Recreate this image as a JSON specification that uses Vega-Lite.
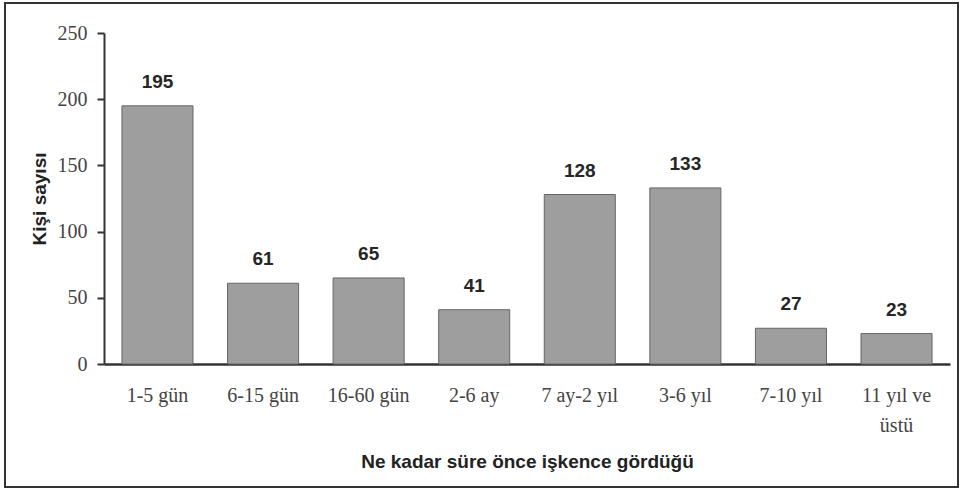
{
  "$schema": "https://vega.github.io/schema/vega-lite/v6.json",
  "autosize": {"type": "none"},
  "width": 846,
  "height": 331,
  "padding": {"left": 104, "top": 33, "right": 17, "bottom": 126},
  "background": "white",
  "config": {"view": {"stroke": null}},
  "data": {"values": [
    {"sure": "1-5 gün", "n": 195},
    {"sure": "6-15 gün", "n": 61},
    {"sure": "16-60 gün", "n": 65},
    {"sure": "2-6 ay", "n": 41},
    {"sure": "7 ay-2 yıl", "n": 128},
    {"sure": "3-6 yıl", "n": 133},
    {"sure": "7-10 yıl", "n": 27},
    {"sure": "11 yıl ve üstü", "n": 23}
  ]},
  "layer": [
    {
      "data": {"values": [{}]},
      "mark": {"type": "rect", "fill": null, "stroke": "#333", "strokeWidth": 2},
      "encoding": {
        "x": {"value": -99},
        "x2": {"value": 854},
        "y": {"value": -30},
        "y2": {"value": 454}
      }
    },
    {
      "mark": {"type": "bar", "fill": "#9e9e9e", "stroke": "#666", "strokeWidth": 1},
      "encoding": {
        "x": {
          "field": "sure", "type": "nominal", "sort": null,
          "scale": {"paddingInner": 0.327, "paddingOuter": 0.17},
          "axis": {
            "title": "Ne kadar süre önce işkence gördüğü",
            "titleFont": "Liberation Sans", "titleFontWeight": "bold", "titleFontSize": 19, "titleColor": "#222",
            "titlePadding": 17,
            "labelFont": "Liberation Serif", "labelFontSize": 20, "labelColor": "#444",
            "labelAngle": 0, "labelPadding": 21, "labelBaseline": "top", "labelLineHeight": 30,
            "labelExpr": "datum.value == '11 yıl ve üstü' ? ['11 yıl ve', 'üstü'] : datum.value",
            "ticks": false, "domainColor": "#333", "domainWidth": 2.5
          }
        },
        "y": {
          "field": "n", "type": "quantitative",
          "scale": {"domain": [0, 250], "nice": false},
          "axis": {
            "title": "Kişi sayısı", "values": [0, 50, 100, 150, 200, 250],
            "titleFont": "Liberation Sans", "titleFontWeight": "bold", "titleFontSize": 19, "titleColor": "#222",
            "titlePadding": 8,
            "labelFont": "Liberation Serif", "labelFontSize": 20, "labelColor": "#444", "labelPadding": 10,
            "grid": false, "tickSize": 7, "tickColor": "#333", "tickWidth": 2,
            "domainColor": "#333", "domainWidth": 2
          }
        }
      }
    },
    {
      "mark": {"type": "text", "font": "Liberation Sans", "fontWeight": "bold", "fontSize": 19, "fill": "#262626", "baseline": "alphabetic", "dy": -18},
      "encoding": {
        "x": {"field": "sure", "type": "nominal", "sort": null},
        "y": {"field": "n", "type": "quantitative", "scale": {"domain": [0, 250], "nice": false}},
        "text": {"field": "n", "type": "quantitative"}
      }
    }
  ]
}
